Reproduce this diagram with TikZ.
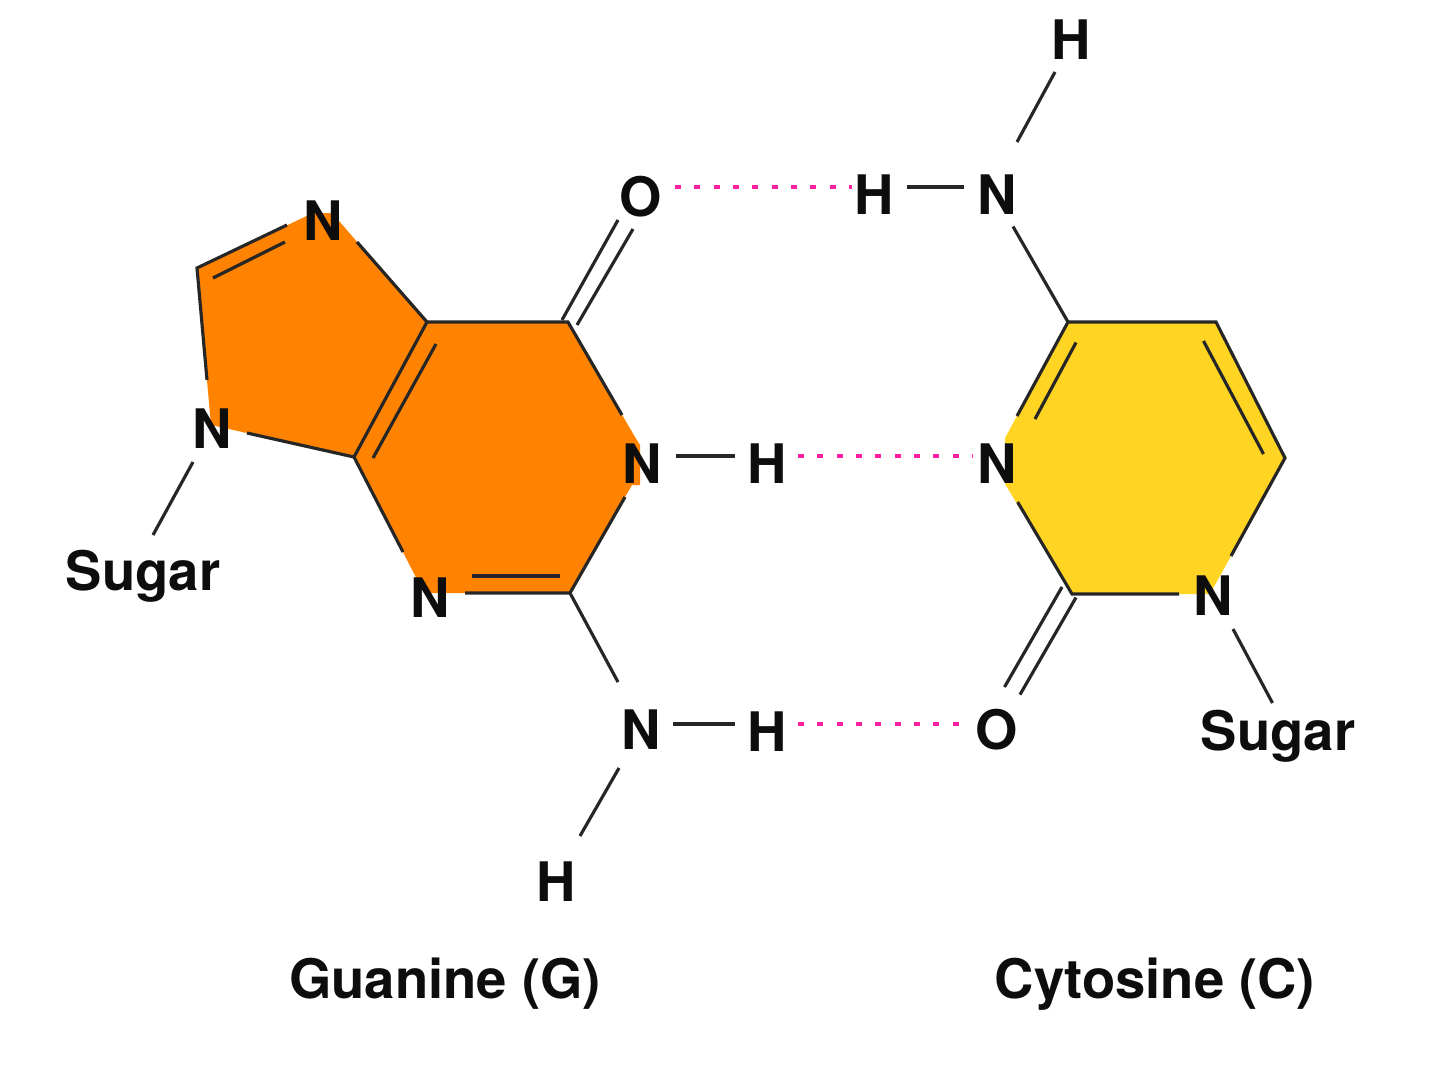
\documentclass[tikz,border=0pt]{standalone}
\usepackage{fontspec}
\setmainfont{TeX Gyre Heros}
\usetikzlibrary{calc}
\usetikzlibrary{positioning}
\definecolor{guaninefill}{HTML}{FF8200}
\definecolor{cytosinefill}{HTML}{FFD422}
\definecolor{hbond}{HTML}{FF1FA0}
\tikzset{
    atom/.style={font=\fontsize{31}{31}\selectfont\bfseries, inner sep=0pt, text=black!95},
    label/.style={font=\fontsize{31}{31}\selectfont\bfseries, inner sep=0pt, text=black!95},
    bond/.style={color=black!85, line width=1.8pt},
    hydrogen/.style={color=hbond, line width=2.4pt, dash pattern=on 3.4pt off 7.6pt}
}
\begin{document}
\begin{tikzpicture}[x=0.02cm, y=-0.02cm]
    \useasboundingbox (0,0) rectangle (1440,1083);
    % ring corners
    \coordinate (gA) at (197,268);
    \coordinate (gB) at (427,322);
    \coordinate (gC) at (568,322);
    \coordinate (gD) at (570,593);
    \coordinate (gE) at (354,457);
    \coordinate (cA) at (1068,322);
    \coordinate (cB) at (1216,322);
    \coordinate (cC) at (1285,458);
    \coordinate (cD) at (1072,594);
    % ring fills
    \fill[guaninefill] (332,213) -- (313,213) -- (gA) -- (211,425) -- (gE) -- (gB) -- cycle;
    \fill[guaninefill] (gB) -- (gC) -- (635,437) -- (640,445) -- (640,485) -- (632,485) -- (gD) -- (424,593) -- (gE) -- cycle;
    \fill[cytosinefill] (cA) -- (cB) -- (cC) -- (1210,594) -- (cD) -- (1005,484) -- (1005,438) -- cycle;
    % atoms
    \node[atom] (gN7) at (323,221) {N};
    \node[atom] (gN9) at (212,429) {N};
    \node[atom] (gN3) at (430,598) {N};
    \node[atom] (gN1) at (642,464) {N};
    \node[atom] (gO) at (641,197) {O};
    \node[atom] (gH1) at (767,464) {H};
    \node[atom] (gN2) at (641,730) {N};
    \node[atom] (gH2) at (767,732) {H};
    \node[atom] (gH3) at (556,882) {H};
    \node[atom] (cH1) at (1071,40) {H};
    \node[atom] (cN4) at (997,195) {N};
    \node[atom] (cH2) at (874,195) {H};
    \node[atom] (cN3) at (997,464) {N};
    \node[atom] (cN1) at (1213,596) {N};
    \node[atom] (cO) at (997,730) {O};
    \node[label] (gSugar) at (143,576) {Sugar};
    \node[label] (cSugar) at (1278,736) {Sugar};
    \node[label] (gName) at (445,984) {Guanine (G)};
    \node[label] (cName) at (1155,984) {Cytosine (C)};
    % guanine bonds
    \draw[bond] ($(gN7)+(-36,4)$) -- (gA) -- ($(gN9)+(-5,-49)$);
    \draw[bond] ($(gA)+(16,10)$) -- ($(gN7)+(-38,21)$);
    \draw[bond] ($(gN9)+(35,4)$) -- (gE) -- (gB);
    \draw[bond] ($(gN7)+(34,21)$) -- (gB) -- (gC) -- ($(gN1)+(-20,-49)$);
    \draw[bond] ($(gN1)+(-17,33)$) -- (gD) -- ($(gN3)+(35,-5)$);
    \draw[bond] ($(gN3)+(-27,-46)$) -- (gE);
    \draw[bond] ($(gB)+(9,22)$) -- ($(gE)+(19,1)$);
    \draw[bond] ($(gN3)+(42,-22)$) -- ($(gD)+(-10,-17)$);
    \draw[bond] ($(gC)+(-6,-2)$) -- ($(gO)+(-23,23)$);
    \draw[bond] ($(gC)+(9,3)$) -- ($(gO)+(-8,32)$);
    \draw[bond] (gD) -- ($(gN2)+(-23,-48)$);
    \draw[bond] ($(gN1)+(34,-8)$) -- ($(gH1)+(-32,-8)$);
    \draw[bond] ($(gN2)+(32,-6)$) -- ($(gH2)+(-32,-8)$);
    \draw[bond] ($(gN2)+(-22,38)$) -- ($(gH3)+(24,-46)$);
    \draw[bond] ($(gN9)+(-19,33)$) -- ($(gSugar)+(10,-41)$);
    % cytosine bonds
    \draw[bond] ($(cN3)+(20,-48)$) -- (cA) -- (cB) -- (cC) -- ($(cN1)+(18,-40)$);
    \draw[bond] ($(cN1)+(-34,-2)$) -- (cD) -- ($(cN3)+(20.6,38)$);
    \draw[bond] ($(cA)+(8,20.5)$) -- ($(cN3)+(38,-45)$);
    \draw[bond] ($(cB)+(-12.5,19)$) -- ($(cC)+(-21.5,-4)$);
    \draw[bond] ($(cD)+(-10,-7)$) -- ($(cO)+(7.5,-43)$);
    \draw[bond] ($(cD)+(4,3.5)$) -- ($(cO)+(23,-35.4)$);
    \draw[bond] (cA) -- ($(cN4)+(16,31.5)$);
    \draw[bond] ($(cN4)+(20,-53)$) -- ($(cH1)+(-16,32)$);
    \draw[bond] ($(cN4)+(-33,-8)$) -- ($(cH2)+(33,-8)$);
    \draw[bond] ($(cN1)+(20,33)$) -- ($(cSugar)+(-5.5,-33)$);
    % hydrogen bonds
    \draw[hydrogen] ($(gO)+(34,-10)$) -- ($(cH2)+(-22,-8)$);
    \draw[hydrogen] ($(gH1)+(31,-8)$) -- ($(cN3)+(-24,-8)$);
    \draw[hydrogen] ($(gH2)+(31,-8)$) -- ($(cO)+(-29,-6)$);
\end{tikzpicture}
\end{document}
